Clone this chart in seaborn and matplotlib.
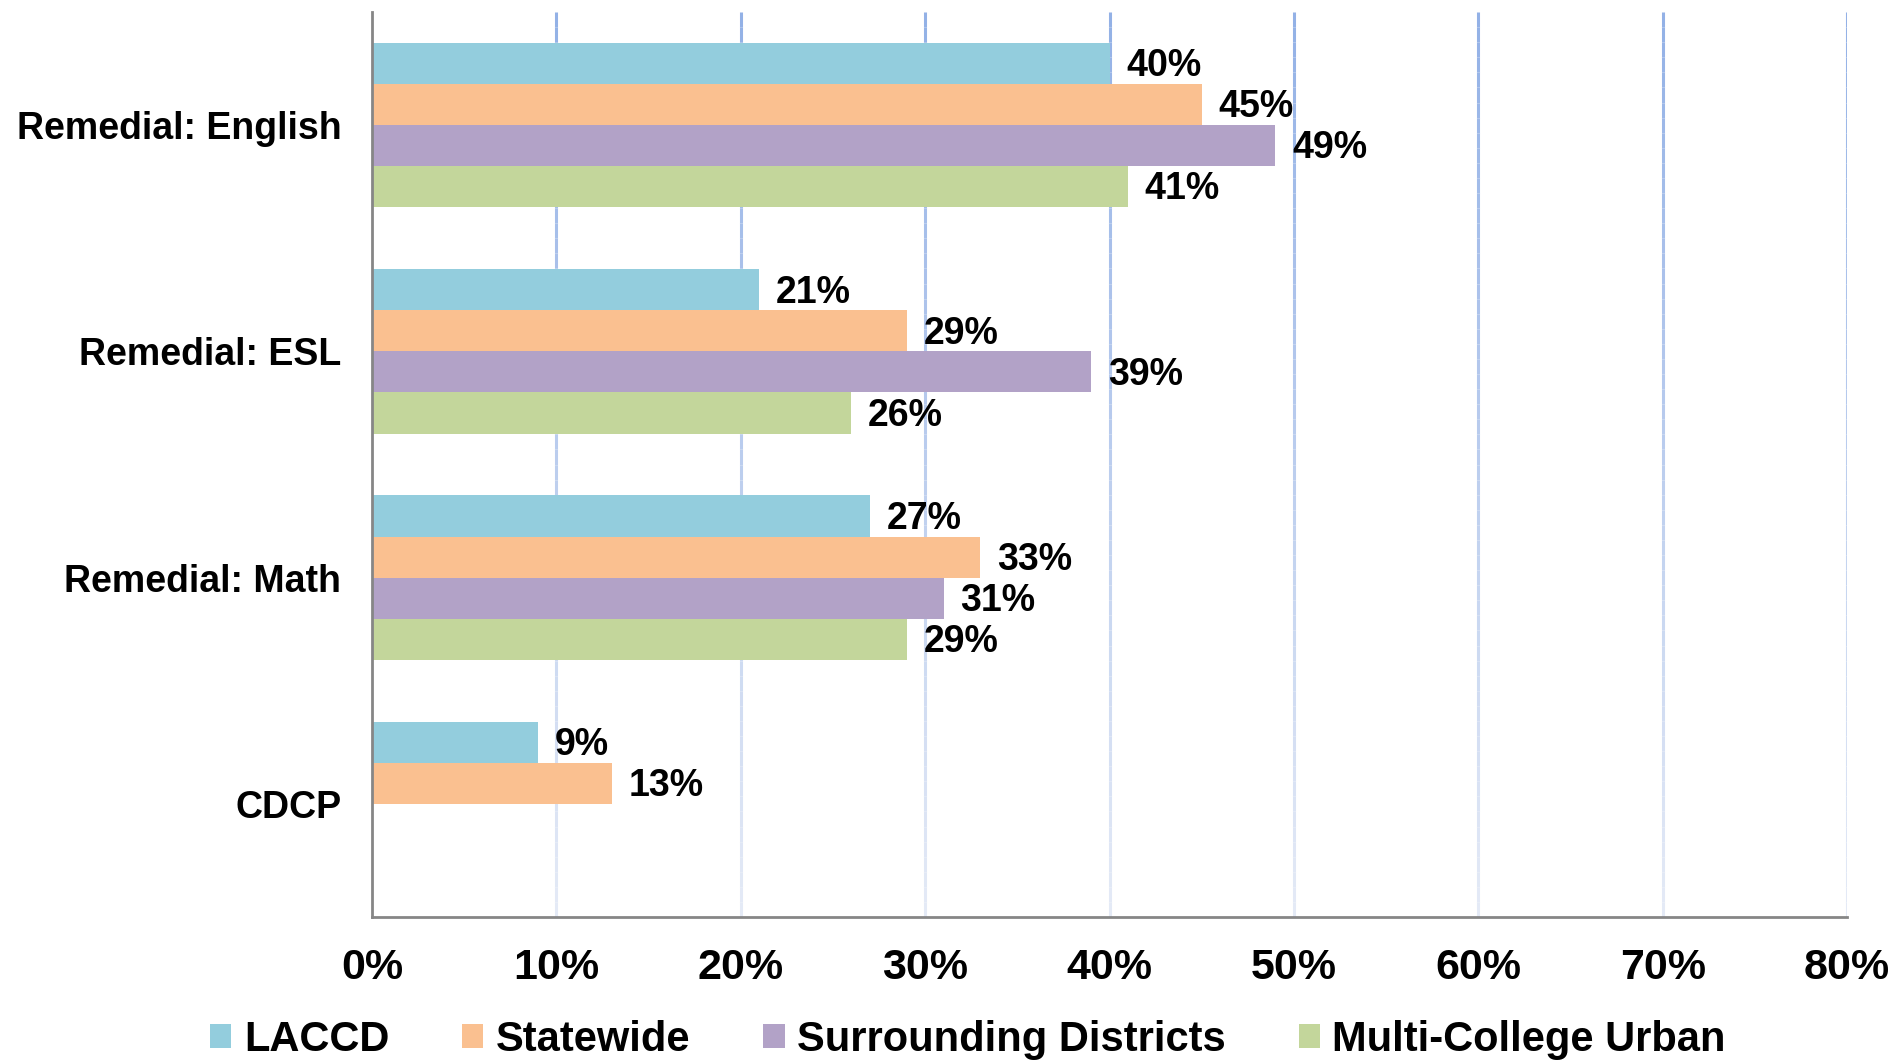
import matplotlib
matplotlib.use("Agg")
import matplotlib.pyplot as plt
import matplotlib.colors as mcolors
import numpy as np
import pandas as pd
import seaborn as sns

# ---- data -------------------------------------------------------------
categories = ["Remedial: English", "Remedial: ESL", "Remedial: Math", "CDCP"]
series = ["LACCD", "Statewide", "Surrounding Districts", "Multi-College Urban"]
laccd = [40, 21, 27, 9]
statewide = [45, 29, 33, 13]
surrounding = [49, 39, 31, np.nan]
multi_college = [41, 26, 29, np.nan]
x_ticks = [0, 10, 20, 30, 40, 50, 60, 70, 80]

colors = ["#93CDDD", "#FAC090", "#B2A2C7", "#C3D69B"]

rows = []
for name, vals in zip(series, [laccd, statewide, surrounding, multi_college]):
    for cat, v in zip(categories, vals):
        rows.append({"category": cat, "series": name, "value": v})
df = pd.DataFrame(rows)

# ---- style ------------------------------------------------------------
sns.set_style("white")
plt.rcParams["font.family"] = ["Liberation Sans", "DejaVu Sans"]
plt.rcParams["font.weight"] = "bold"
plt.rcParams["text.color"] = "black"
plt.rcParams["xtick.labelcolor"] = "black"
plt.rcParams["ytick.labelcolor"] = "black"

spine_gray = "#868686"

fig = plt.figure(figsize=(18.95, 10.61), dpi=100)
ax = fig.add_axes([372 / 1895, 1 - 917 / 1061, (1847 - 372) / 1895, (917 - 12) / 1061])

sns.barplot(
    data=df, y="category", x="value", hue="series", orient="h",
    order=categories, hue_order=series, palette=colors, saturation=1,
    width=0.726, errorbar=None, ax=ax, legend=True, zorder=3, linewidth=0,
)

ax.set_xlim(x_ticks[0], x_ticks[-1])
ax.set_ylim(len(categories) - 0.5, -0.5)

# fading vertical gridlines
n_seg = 60
ys = np.linspace(-0.5, len(categories) - 0.5, n_seg + 1)
c_top = np.array(mcolors.to_rgb("#93B1E6"))
c_bot = np.array(mcolors.to_rgb("#E4EAF6"))
seg_cols = [tuple(c_top + (c_bot - c_top) * t) for t in np.linspace(0, 1, n_seg)]
for xv in x_ticks[1:]:
    ax.vlines([xv] * n_seg, ys[:-1], ys[1:], colors=seg_cols, linewidth=2.2, zorder=1)

# value labels, nudged so the digits sit centred on each bar
for cont in ax.containers:
    anns = ax.bar_label(cont, fmt="{:.0f}%", padding=12, fontsize=27,
                        fontweight="bold", color="black")
    for a in anns:
        a.xyann = (12, -2)

# axes cosmetics
for side in ["top", "right"]:
    ax.spines[side].set_visible(False)
for side in ["left", "bottom"]:
    ax.spines[side].set_color(spine_gray)
    ax.spines[side].set_linewidth(2)
    ax.spines[side].set_zorder(4)

ax.set_xticks(x_ticks)
ax.set_xticklabels([f"{t}%" for t in x_ticks])
for lbl in ax.get_xticklabels():
    lbl.set_fontsize(31)
    lbl.set_fontweight("bold")
    lbl.set_color("black")
ax.tick_params(axis="x", length=12, width=2, color=spine_gray, direction="out", pad=10)

ax.set_yticks(range(len(categories)))
ax.set_yticklabels(categories, fontsize=27, fontweight="bold", color="black")
ax.set_yticks(np.arange(-0.5, len(categories), 1.0), minor=True)
ax.tick_params(axis="y", which="major", length=0, pad=22)
ax.tick_params(axis="y", which="minor", length=12, width=2, color=spine_gray, direction="out")
ax.set_xlabel("")
ax.set_ylabel("")

# legend along the bottom
handles, labels = ax.get_legend_handles_labels()
ax.get_legend().remove()
leg = fig.legend(
    handles, labels, loc="center", bbox_to_anchor=(968 / 1895, 1 - 1040 / 1061),
    ncol=4, frameon=False, prop={"size": 30, "weight": "bold"},
    handlelength=0.51, handleheight=0.51, handletextpad=0.3, columnspacing=1.75,
    borderpad=0, borderaxespad=0,
)
for t in leg.get_texts():
    t.set_color("black")

fig.savefig("out.png", dpi=100)
